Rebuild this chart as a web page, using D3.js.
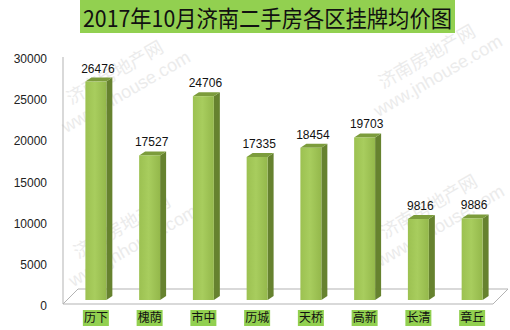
<!DOCTYPE html>
<html>
<head>
<meta charset="utf-8">
<script src="https://cdn.jsdelivr.net/npm/d3@7"></script>
<style>
  body { margin: 0; background: #fff; }
  svg { display: block; }
</style>
</head>
<body>
<div id="container"></div>
<script>
/* CONSTANTS AND GLOBALS */
const width = 510;
const height = 330;
const title = "2017年10月济南二手房各区挂牌均价图";

/* DATA */
const districts = ["历下", "槐荫", "市中", "历城", "天桥", "高新", "长清", "章丘"];
const prices = [26476, 17527, 24706, 17335, 18454, 19703, 9816, 9886];
const yTicks = [0, 5000, 10000, 15000, 20000, 25000, 30000];

const cjk = "'Noto Sans CJK SC', sans-serif";
const latin = "'Liberation Sans', Arial, sans-serif";
const depthX = 6, depthY = -4; // 3d offset

/* SCALES */
const xScale = d3.scaleBand()
  .domain(districts)
  .range([69, 499])
  .paddingInner(.61)
  .paddingOuter(.305);

const yScale = d3.scaleLinear()
  .domain([0, 30000])
  .range([300, 52.5]);

/* SVG */
const svg = d3.select("#container")
  .append("svg")
  .attr("width", width)
  .attr("height", height);

const defs = svg.append("defs");
const grad = defs.append("linearGradient")
  .attr("id", "front")
  .attr("x1", 0).attr("x2", 1).attr("y1", 0).attr("y2", 0);
grad.append("stop").attr("offset", "0%").attr("stop-color", "#9cc151");
grad.append("stop").attr("offset", "45%").attr("stop-color", "#a8cd5e");
grad.append("stop").attr("offset", "100%").attr("stop-color", "#94b84b");

// title
svg.append("rect")
  .attr("x", 80).attr("y", 0)
  .attr("width", 375).attr("height", 33)
  .attr("fill", "#92d050");
svg.append("text")
  .attr("x", 83).attr("y", 27)
  .attr("font-family", cjk)
  .attr("font-size", 23)
  .attr("textLength", 369)
  .attr("lengthAdjust", "spacingAndGlyphs")
  .attr("fill", "#111")
  .text(title);

// watermarks
const marks = [[118, 78], [430, 62], [125, 232], [432, 212]];
marks.forEach(([mx, my]) => {
  const g = svg.append("g")
    .attr("transform", `translate(${mx},${my}) rotate(-30)`)
    .attr("fill", "#dcdcdc")
    .attr("opacity", .55)
    .attr("text-anchor", "middle");
  g.append("text")
    .attr("font-family", cjk).attr("font-size", 18)
    .text("济南房地产网");
  g.append("text")
    .attr("y", 22)
    .attr("font-family", latin).attr("font-size", 18)
    .text("www.jnhouse.com");
});

// wall and floor
svg.append("line")
  .attr("x1", 63).attr("x2", 63)
  .attr("y1", 57).attr("y2", 304)
  .attr("stroke", "#b3b3b3");
svg.append("path")
  .attr("d", "M63,304 L78,289 L508,289 L493,304 Z")
  .attr("fill", "none")
  .attr("stroke", "#b3b3b3");

// y axis
const yAxis = d3.axisLeft(yScale)
  .tickValues(yTicks)
  .tickFormat(d3.format("d"))
  .tickSize(0)
  .tickPadding(0);
const gy = svg.append("g")
  .attr("transform", "translate(47,6)")
  .call(yAxis);
gy.select(".domain").remove();
gy.selectAll("text")
  .attr("font-family", latin)
  .attr("font-size", 12)
  .attr("fill", "#222");

// bars
const bars = svg.selectAll("g.bar")
  .data(districts.map((d, i) => ({ name: d, value: prices[i] })))
  .join("g")
  .attr("class", "bar");

const bw = xScale.bandwidth();

bars.append("path") // side
  .attr("d", d => {
    const x = xScale(d.name) + bw, y0 = yScale(0), y1 = yScale(d.value);
    return `M${x},${y1} L${x + depthX},${y1 + depthY} L${x + depthX},${y0 + depthY} L${x},${y0} Z`;
  })
  .attr("fill", "#66822f");

bars.append("path") // top
  .attr("d", d => {
    const x = xScale(d.name), y1 = yScale(d.value);
    return `M${x},${y1} L${x + depthX},${y1 + depthY} L${x + bw + depthX},${y1 + depthY} L${x + bw},${y1} Z`;
  })
  .attr("fill", "#7c9c3c");

bars.append("rect") // front
  .attr("x", d => xScale(d.name))
  .attr("y", d => yScale(d.value))
  .attr("width", bw)
  .attr("height", d => yScale(0) - yScale(d.value))
  .attr("fill", "url(#front)");

bars.append("text")
  .attr("x", d => xScale(d.name) + bw / 2 + 2)
  .attr("y", d => yScale(d.value) - 9)
  .attr("text-anchor", "middle")
  .attr("font-family", latin)
  .attr("font-size", 12)
  .attr("fill", "#111")
  .text(d => d.value);

// x labels with green highlight
const labels = svg.selectAll("g.xlab")
  .data(districts)
  .join("g")
  .attr("class", "xlab")
  .attr("transform", d => `translate(${xScale(d) + bw / 2},318)`);
labels.append("rect")
  .attr("x", -13).attr("y", -8)
  .attr("width", 26).attr("height", 16)
  .attr("fill", "#92d050");
labels.append("text")
  .attr("text-anchor", "middle")
  .attr("dy", "0.36em")
  .attr("font-family", cjk)
  .attr("font-size", 12)
  .attr("fill", "#111")
  .text(d => d);
</script>
</body>
</html>
